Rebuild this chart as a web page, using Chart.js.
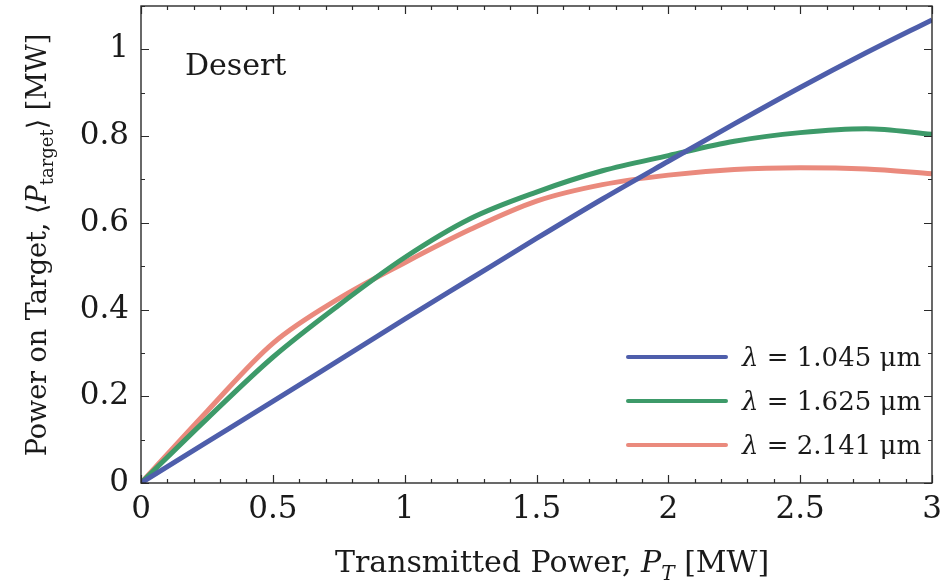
<!DOCTYPE html>
<html>
<head>
<meta charset="utf-8">
<script src="https://cdn.jsdelivr.net/npm/chart.js@4.4.1/dist/chart.umd.min.js"></script>
<style>
  html, body { margin: 0; padding: 0; background: #fff; }
  #wrap { width: 946px; height: 584px; }
</style>
</head>
<body>
<div id="wrap"><canvas id="grafico" width="946" height="584"></canvas></div>
<script>
// --- 1. DATOS ---
const potenciaTx = [0, 0.25, 0.5, 0.75, 1, 1.25, 1.5, 1.75, 2, 2.25, 2.5, 2.75, 3];
const pot1045 = [0, 0.094, 0.188, 0.283, 0.378, 0.471, 0.564, 0.655, 0.742, 0.828, 0.912, 0.992, 1.068];
const pot1625 = [0, 0.148, 0.290, 0.410, 0.520, 0.610, 0.671, 0.720, 0.755, 0.788, 0.808, 0.817, 0.804];
const pot2141 = [0, 0.165, 0.322, 0.425, 0.508, 0.585, 0.650, 0.688, 0.710, 0.723, 0.727, 0.724, 0.713];
const longitudes = ['1.045', '1.625', '2.141'];
const ticksX = [0, 0.5, 1, 1.5, 2, 2.5, 3];
const ticksY = [0, 0.2, 0.4, 0.6, 0.8, 1];
const escenario = 'Desert';

const FUENTE = '"DejaVu Serif", "Liberation Serif", serif';
const colores = ['#4e5eab', '#3d9a69', '#ea8a7d'];
const series = [pot1045, pot1625, pot2141];

// --- 2. UTILIDADES DE TEXTO ---
// dibuja trozos de texto (cursiva / subíndice) a partir de x, línea base y
function fuenteRun(r, size) {
    const s = r.sub ? Math.round(size * 0.66) : size;
    return (r.it ? 'italic ' : '') + s + 'px ' + FUENTE;
}
function anchoRuns(ctx, runs, size) {
    let w = 0;
    runs.forEach(r => {
        ctx.font = fuenteRun(r, size);
        w += ctx.measureText(r.t).width;
    });
    return w;
}
function dibujarRuns(ctx, runs, size, x, y) {
    ctx.textBaseline = 'alphabetic';
    ctx.textAlign = 'left';
    runs.forEach(r => {
        ctx.font = fuenteRun(r, size);
        ctx.fillText(r.t, x, y + (r.sub ? size * 0.28 : 0));
        x += ctx.measureText(r.t).width;
    });
}

const tituloY = [
    { t: 'Power on Target, \u27E8' }, { t: 'P', it: true }, { t: 'target', sub: true }, { t: '\u27E9 [MW]' }
];
const tituloX = [
    { t: 'Transmitted Power, ' }, { t: 'P', it: true }, { t: 'T', it: true, sub: true }, { t: ' [MW]' }
];

// --- 3. PLUGINS: marco con marcas hacia dentro, textos y leyenda ---
const marco = {
    id: 'marco',
    afterDraw(chart) {
        const { ctx, chartArea: a, scales: { x, y } } = chart;
        ctx.save();
        ctx.strokeStyle = '#2a2a2a';
        ctx.lineWidth = 1.4;
        ctx.strokeRect(a.left, a.top, a.right - a.left, a.bottom - a.top);
        ctx.lineWidth = 1.2;
        ctx.beginPath();
        for (let v = 0; v <= 3.0001; v += 0.1) {
            const mayor = ticksX.some(t => Math.abs(t - v) < 1e-6);
            const L = mayor ? 8 : 4;
            const px = Math.round(x.getPixelForValue(v)) + 0.5;
            ctx.moveTo(px, a.bottom); ctx.lineTo(px, a.bottom - L);
            ctx.moveTo(px, a.top); ctx.lineTo(px, a.top + L);
        }
        for (let v = 0; v <= 1.1; v += 0.1) {
            const mayor = ticksY.some(t => Math.abs(t - v) < 1e-6);
            const L = mayor ? 8 : 4;
            const py = Math.round(y.getPixelForValue(v)) + 0.5;
            ctx.moveTo(a.left, py); ctx.lineTo(a.left + L, py);
            ctx.moveTo(a.right, py); ctx.lineTo(a.right - L, py);
        }
        ctx.stroke();
        ctx.restore();
    }
};

const textos = {
    id: 'textos',
    afterDraw(chart) {
        const { ctx } = chart;
        ctx.save();
        ctx.fillStyle = '#1a1a1a';

        // título eje Y (girado)
        const sY = 27;
        const wY = anchoRuns(ctx, tituloY, sY);
        ctx.save();
        ctx.translate(36, 245);
        ctx.rotate(-Math.PI / 2);
        dibujarRuns(ctx, tituloY, sY, -wY / 2, sY * 0.36);
        ctx.restore();

        // título eje X
        const sX = 30;
        const wX = anchoRuns(ctx, tituloX, sX);
        dibujarRuns(ctx, tituloX, sX, 552 - wX / 2, 572);

        // etiqueta del escenario
        ctx.font = '30px ' + FUENTE;
        ctx.textAlign = 'left';
        ctx.textBaseline = 'alphabetic';
        ctx.fillText(escenario, 185, 75);

        // leyenda
        const filas = [357, 401, 445];
        chart.data.datasets.forEach((ds, i) => {
            const yy = filas[i];
            ctx.strokeStyle = ds.borderColor;
            ctx.lineWidth = 4;
            ctx.lineCap = 'round';
            ctx.beginPath();
            ctx.moveTo(628, yy); ctx.lineTo(726, yy);
            ctx.stroke();
            dibujarRuns(ctx, [{ t: '\u03BB', it: true }, { t: ' = ' + longitudes[i] + ' \u03BCm' }], 26, 742, yy + 9);
        });
        ctx.restore();
    }
};

// --- 4. GRÁFICO ---
const ctx = document.getElementById('grafico').getContext('2d');
new Chart(ctx, {
    type: 'line',
    data: {
        datasets: series.map((s, i) => ({
            label: '\u03BB = ' + longitudes[i] + ' \u03BCm',
            data: potenciaTx.map((xv, j) => ({ x: xv, y: s[j] })),
            borderColor: colores[i],
            backgroundColor: colores[i],
            borderWidth: 5,
            pointRadius: 0,
            cubicInterpolationMode: 'monotone',
            fill: false
        }))
    },
    options: {
        responsive: false,
        animation: false,
        layout: { padding: { top: 6, right: 14, left: 0, bottom: 0 } },
        plugins: { legend: { display: false }, tooltip: { enabled: false } },
        scales: {
            x: {
                type: 'linear',
                min: 0,
                max: 3,
                afterFit: s => { s.height = 101; s.paddingLeft = 0; s.paddingRight = 0; },
                afterBuildTicks: s => { s.ticks = ticksX.map(v => ({ value: v })); },
                grid: { display: false, drawTicks: false },
                border: { display: false },
                ticks: {
                    font: { family: FUENTE, size: 31 },
                    color: '#1a1a1a',
                    padding: 8,
                    maxRotation: 0,
                    autoSkip: false,
                    callback: v => String(v)
                }
            },
            y: {
                type: 'linear',
                min: 0,
                max: 1.1,
                afterFit: s => { s.width = 141; s.paddingTop = 0; s.paddingBottom = 0; },
                afterBuildTicks: s => { s.ticks = ticksY.map(v => ({ value: v })); },
                grid: { display: false, drawTicks: false },
                border: { display: false },
                ticks: {
                    font: { family: FUENTE, size: 31 },
                    color: '#1a1a1a',
                    padding: 12,
                    autoSkip: false,
                    callback: v => String(Math.round(v * 10) / 10)
                }
            }
        }
    },
    plugins: [marco, textos]
});
</script>
</body>
</html>
